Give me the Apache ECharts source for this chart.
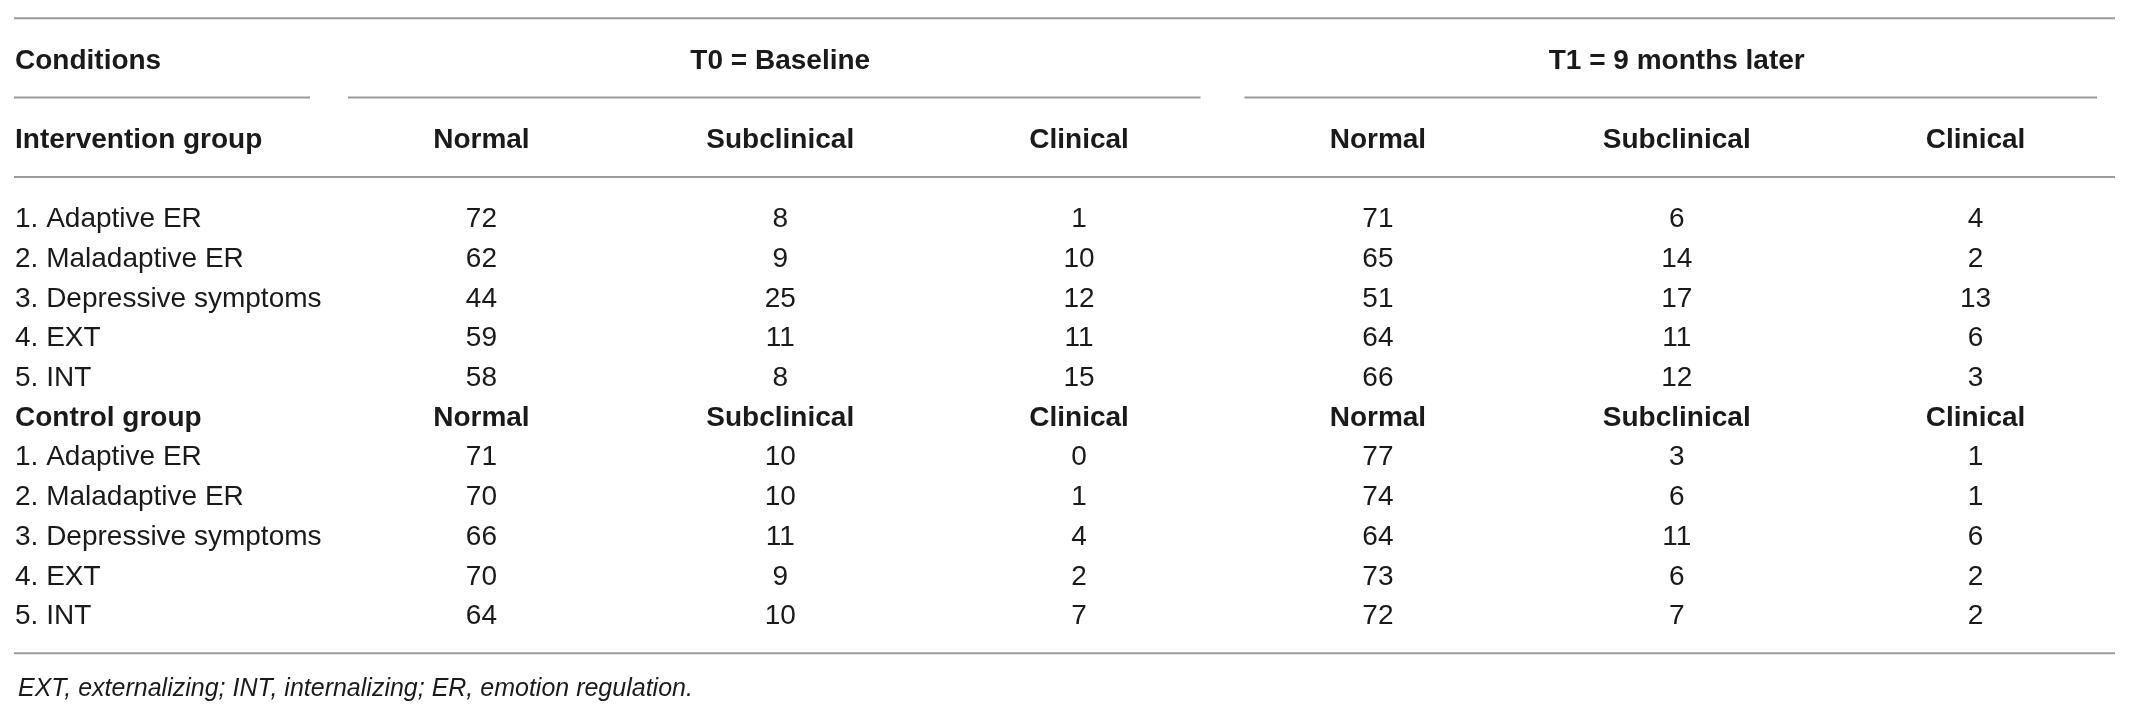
<!DOCTYPE html>
<html>
<head>
<meta charset="utf-8">
<title>Conditions table</title>
<script src="https://cdn.jsdelivr.net/npm/echarts@6/dist/echarts.min.js"></script>
<style>
  html, body { margin: 0; padding: 0; background: #fff; }
  #main { width: 2129px; height: 716px; }
</style>
</head>
<body>
<div id="main"></div>
<script>
// table content
const groups = ['Intervention group', 'Control group'];
const periods = ['T0 = Baseline', 'T1 = 9 months later'];
const levels = ['Normal', 'Subclinical', 'Clinical'];
const rowLabels = ['1. Adaptive ER', '2. Maladaptive ER', '3. Depressive symptoms', '4. EXT', '5. INT'];

// counts per row: [Normal, Subclinical, Clinical]
const interventionT0 = [[72, 8, 1], [62, 9, 10], [44, 25, 12], [59, 11, 11], [58, 8, 15]];
const interventionT1 = [[71, 6, 4], [65, 14, 2], [51, 17, 13], [64, 11, 6], [66, 12, 3]];
const controlT0 = [[71, 10, 0], [70, 10, 1], [66, 11, 4], [70, 9, 2], [64, 10, 7]];
const controlT1 = [[77, 3, 1], [74, 6, 1], [64, 11, 6], [73, 6, 2], [72, 7, 2]];

const footnote = 'EXT, externalizing; INT, internalizing; ER, emotion regulation.';

// row slots (top to bottom). blank slots carry the rules
const slotLabels = ['Conditions', '', groups[0], '']
  .concat(rowLabels, [groups[1]], rowLabels, ['']);
const boldSlots = [0, 2, 9];
const headerSlots = [2, 9];          // rows with Normal / Subclinical / Clinical
const firstRowSlot = [4, 10];        // first data row of each group
const columns = [];
periods.forEach(p => levels.forEach(l => columns.push(p + ' ' + l)));

// rules: [slot, startCol, endCol], col -1 = label column
const rules = [[-1, -1, 5], [1, -1, -1], [1, 0, 2], [1, 3, 5], [3, -1, 5], [15, -1, 5]];

const valueCells = [];
[[interventionT0, interventionT1], [controlT0, controlT1]].forEach((pair, g) => {
  pair.forEach((tbl, t) => {
    tbl.forEach((row, r) => {
      row.forEach((v, l) => valueCells.push([t * 3 + l, firstRowSlot[g] + r, v]));
    });
  });
});

const headCells = [];
periods.forEach((p, t) => headCells.push([t * 3 + 1, 0, p]));
headerSlots.forEach(s => {
  [0, 1].forEach(t => levels.forEach((l, i) => headCells.push([t * 3 + i, s, l])));
});

const FONT = '"Liberation Sans", Arial, sans-serif';
const INK = '#1a1a1a';
const RULE = '#9a9a9a';

const chart = echarts.init(document.getElementById('main'));

chart.setOption({
  animation: false,
  backgroundColor: '#fff',
  title: {
    text: footnote,
    left: 13,
    top: 672,
    textStyle: { fontFamily: FONT, fontSize: 25, fontStyle: 'italic', fontWeight: 'normal', color: INK }
  },
  grid: { left: 332, top: 41, width: 1793, height: 635 },
  xAxis: {
    type: 'category',
    data: columns,
    min: 0,
    max: 5,
    show: false
  },
  yAxis: {
    type: 'category',
    data: slotLabels.map((s, i) => 'slot' + i),
    inverse: true,
    min: 0,
    max: 15,
    axisLine: { show: false },
    axisTick: { show: false },
    splitLine: { show: false },
    axisLabel: {
      interval: 0,
      align: 'left',
      margin: 317,
      fontFamily: FONT,
      fontSize: 28,
      color: INK,
      formatter: (val, idx) => {
        const txt = slotLabels[idx];
        return boldSlots.indexOf(idx) >= 0 ? '{b|' + txt + '}' : txt;
      },
      rich: {
        b: { fontFamily: FONT, fontSize: 28, fontWeight: 'bold', color: INK }
      }
    }
  },
  series: [
    {
      type: 'custom',
      silent: true,
      data: rules.map(r => [0, 0, r[0], r[1], r[2]]),
      encode: { x: 0, y: 1 },
      renderItem: (params, api) => {
        const slot = api.value(2), c0 = api.value(3), c1 = api.value(4);
        const band = api.size([0, 1])[1];
        const colW = api.size([1, 0])[0];
        const y = api.coord([0, 0])[1] + slot * band - 3;
        const full = c0 < 0 && c1 === 5;
        const x1 = c0 < 0 ? 14 : api.coord([c0, 0])[0] - colW / 2 + 16;
        let x2;
        if (c1 < 0) x2 = 310;
        else if (full) x2 = api.coord([c1, 0])[0] + colW / 2 - 10;
        else x2 = api.coord([c1, 0])[0] + colW / 2 - 28;
        return {
          type: 'line',
          shape: { x1: x1, y1: y, x2: x2, y2: y },
          style: { stroke: RULE, lineWidth: 2 }
        };
      }
    },
    {
      type: 'scatter',
      silent: true,
      symbolSize: 0,
      itemStyle: { color: 'transparent', opacity: 1 },
      data: valueCells,
      label: {
        show: true,
        position: 'inside',
        formatter: p => String(p.data[2]),
        fontFamily: FONT,
        fontSize: 28,
        color: INK
      }
    },
    {
      type: 'scatter',
      silent: true,
      symbolSize: 0,
      itemStyle: { color: 'transparent', opacity: 1 },
      data: headCells,
      label: {
        show: true,
        position: 'inside',
        formatter: p => p.data[2],
        fontFamily: FONT,
        fontSize: 28,
        fontWeight: 'bold',
        color: INK
      }
    }
  ]
});
</script>
</body>
</html>
